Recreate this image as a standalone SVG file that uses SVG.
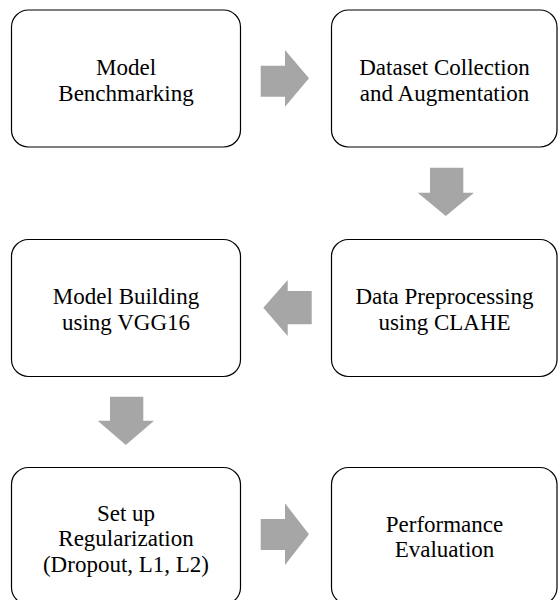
<svg xmlns="http://www.w3.org/2000/svg" width="558" height="600" viewBox="0 0 558 600">
<style>
.box{fill:#fff;stroke:#000;stroke-width:1.2}
.arr{fill:#a6a6a6;stroke:none}
.t{font-family:"Liberation Serif","Times New Roman",Times,"DejaVu Serif",serif;font-size:23px;fill:#000;text-anchor:middle}
</style>
<rect width="558" height="600" fill="#fff"/>
<g id="connectors">
<polygon class="arr" points="260.7,65.7 285,65.7 285,50 309,78.3 285,106.7 285,96.7 260.7,96.7"/>
<polygon class="arr" points="430,167.7 463.3,167.7 463.3,192.7 474,192.7 445.8,216 417.7,192.7 430,192.7"/>
<polygon class="arr" points="311.7,291 287.7,291 287.7,280 263.3,307.7 287.7,336 287.7,324.3 311.7,324.3"/>
<polygon class="arr" points="110,396.7 143.3,396.7 143.3,420.7 154,420.7 125.8,445 97.7,420.7 110,420.7"/>
<polygon class="arr" points="260.7,519 285,519 285,503.3 309,534.2 285,565 285,550 260.7,550"/>
</g>
<g id="n1">
<rect class="box" x="11.5" y="10" width="229" height="137" rx="17"/>
<text class="t" x="126" y="75">Model</text>
<text class="t" x="126" y="100.5">Benchmarking</text>
</g>
<g id="n2">
<rect class="box" x="331.5" y="10" width="225.5" height="137" rx="17"/>
<text class="t" x="444.5" y="75">Dataset Collection</text>
<text class="t" x="444.5" y="100.5">and Augmentation</text>
</g>
<g id="n3">
<rect class="box" x="331.5" y="239.5" width="225.5" height="137" rx="17"/>
<text class="t" x="444.5" y="304.3">Data Preprocessing</text>
<text class="t" x="444.5" y="330">using CLAHE</text>
</g>
<g id="n4">
<rect class="box" x="11.5" y="239.5" width="229" height="137" rx="17"/>
<text class="t" x="126" y="304.3">Model Building</text>
<text class="t" x="126" y="330">using VGG16</text>
</g>
<g id="n5">
<rect class="box" x="11.5" y="467.5" width="229" height="137" rx="17"/>
<text class="t" x="126" y="520.7">Set up</text>
<text class="t" x="126" y="546">Regularization</text>
<text class="t" x="126" y="571.7">(Dropout, L1, L2)</text>
</g>
<g id="n6">
<rect class="box" x="331.5" y="467.5" width="225.5" height="137" rx="17"/>
<text class="t" x="444.5" y="531.7">Performance</text>
<text class="t" x="444.5" y="556.7">Evaluation</text>
</g>
</svg>
